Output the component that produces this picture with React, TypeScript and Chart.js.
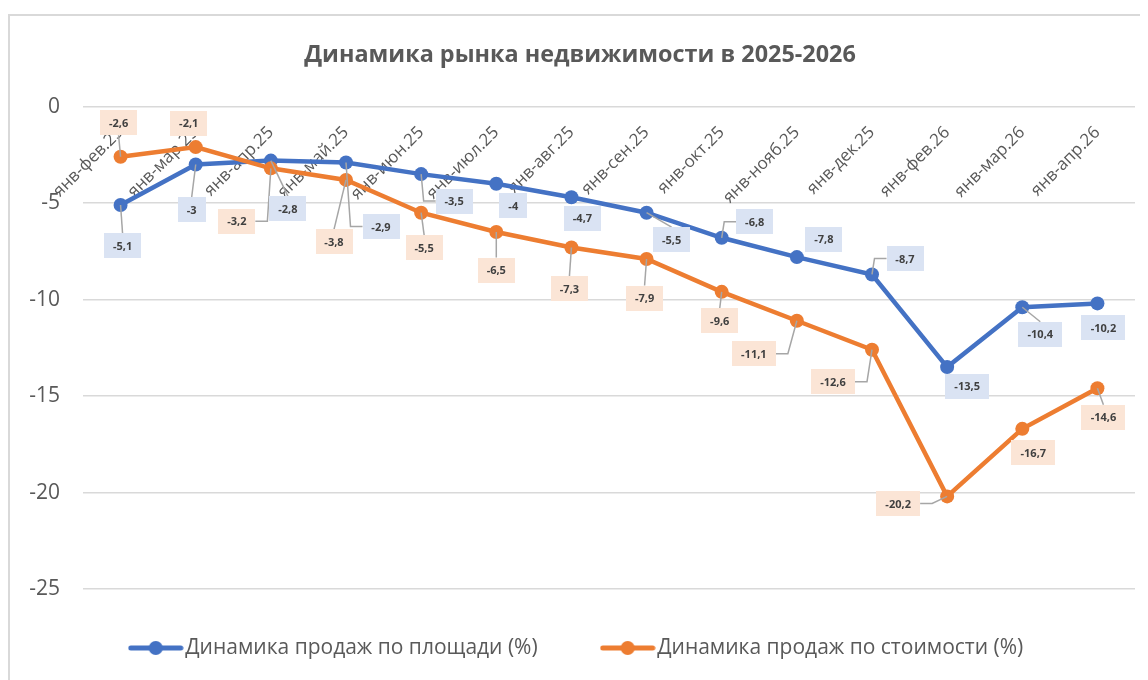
import React, { useEffect, useRef } from "react";
import { Chart, registerables } from "chart.js";

Chart.register(...registerables);

const chartTitle = "Динамика рынка недвижимости в 2025-2026";
const categories = [
  "янв-фев.25", "янв-мар.25", "янв-апр.25", "янв-май.25", "янв-июн.25", "янв-июл.25", "янв-авг.25",
  "янв-сен.25", "янв-окт.25", "янв-нояб.25", "янв-дек.25", "янв-фев.26", "янв-мар.26", "янв-апр.26",
];
const areaName = "Динамика продаж по площади (%)";
const costName = "Динамика продаж по стоимости (%)";
const areaValues = [-5.1, -3, -2.8, -2.9, -3.5, -4, -4.7, -5.5, -6.8, -7.8, -8.7, -13.5, -10.4, -10.2];
const costValues = [-2.6, -2.1, -3.2, -3.8, -5.5, -6.5, -7.3, -7.9, -9.6, -11.1, -12.6, -20.2, -16.7, -14.6];
const yTickValues = [0, -5, -10, -15, -20, -25];

// label box offsets (px) from each point, as placed in the original chart
const areaLabelOffsets: [number, number][] = [
  [2, 41], [-4, 45], [17, 48], [35, 64], [33, 27], [17, 22], [11, 21],
  [25, 27], [33, -16], [27, -18], [33, -16], [20, 19], [18, 27], [6, 24],
];
const costLabelOffsets: [number, number][] = [
  [-2, -34], [-7, -24], [-34, 53], [-12, 62], [3, 35], [0, 38], [-2, 41],
  [-2, 39], [-2, 29], [-43, 33], [-39, 32], [-49, 7], [11, 24], [6, 29],
];

const BLUE = "#4472c4";
const ORANGE = "#ed7d31";
const BLUE_BOX = "#dae3f3";
const ORANGE_BOX = "#fbe5d6";
const TEXT = "#595959";
const FONT = "'Open Sans', 'Noto Sans', sans-serif";

function makeLegendIcon(color: string) {
  const c = document.createElement("canvas");
  c.width = 56;
  c.height = 16;
  const g = c.getContext("2d")!;
  g.strokeStyle = color;
  g.lineWidth = 5;
  g.lineCap = "round";
  g.beginPath();
  g.moveTo(3, 8);
  g.lineTo(53, 8);
  g.stroke();
  g.fillStyle = color;
  g.beginPath();
  g.arc(28, 8, 7, 0, Math.PI * 2);
  g.fill();
  return c;
}

const labelPlugin = {
  id: "excelDataLabels",
  afterDatasetsDraw(chart: any) {
    const ctx = chart.ctx;
    const offsetsList = [areaLabelOffsets, costLabelOffsets];
    const fills = [BLUE_BOX, ORANGE_BOX];
    ctx.save();
    ctx.font = `bold 11px ${FONT}`;
    const items: any[] = [];
    chart.data.datasets.forEach((ds: any, di: number) => {
      const meta = chart.getDatasetMeta(di);
      meta.data.forEach((el: any, i: number) => {
        const v = ds.data[i];
        const text = String(v).replace(".", ",");
        const tw = ctx.measureText(text).width;
        const w = Math.round(tw + 18);
        const h = 25;
        const off = offsetsList[di][i];
        const cx = el.x + off[0];
        const cy = el.y + off[1];
        items.push({ px: el.x, py: el.y, cx, cy, w, h, text, fill: fills[di] });
      });
    });
    // leader lines
    ctx.strokeStyle = "#a6a6a6";
    ctx.lineWidth = 1.5;
    items.forEach((it) => {
      const bx0 = it.cx - it.w / 2, bx1 = it.cx + it.w / 2;
      const by0 = it.cy - it.h / 2, by1 = it.cy + it.h / 2;
      const nx = Math.min(Math.max(it.px, bx0), bx1);
      const ny = Math.min(Math.max(it.py, by0), by1);
      const dist = Math.hypot(it.px - nx, it.py - ny);
      if (dist <= 14) return;
      ctx.beginPath();
      if (it.px < bx0 - 10) {
        ctx.moveTo(bx0, it.cy);
        ctx.lineTo(bx0 - 12, it.cy);
        ctx.lineTo(it.px, it.py);
      } else if (it.px > bx1 + 10) {
        ctx.moveTo(bx1, it.cy);
        ctx.lineTo(bx1 + 12, it.cy);
        ctx.lineTo(it.px, it.py);
      } else {
        const ey = it.py < by0 ? by0 : by1;
        ctx.moveTo(it.cx, ey);
        ctx.lineTo(it.px, it.py);
      }
      ctx.stroke();
    });
    // boxes and text
    ctx.textAlign = "center";
    ctx.textBaseline = "middle";
    items.forEach((it) => {
      ctx.fillStyle = it.fill;
      ctx.fillRect(Math.round(it.cx - it.w / 2), Math.round(it.cy - it.h / 2), it.w, it.h);
      ctx.fillStyle = "#404040";
      ctx.fillText(it.text, it.cx, it.cy + 1);
    });
    ctx.restore();
  },
};

const legendShiftPlugin = {
  id: "legendShift",
  afterLayout(chart: any) {
    const lg = chart.legend;
    if (lg) {
      lg.top -= 22.5;
      lg.bottom -= 22.5;
    }
  },
};

export default function App() {
  const ref = useRef<HTMLCanvasElement>(null);
  useEffect(() => {
    const icons = [makeLegendIcon(BLUE), makeLegendIcon(ORANGE)];
    const chart = new Chart(ref.current!, {
      type: "line",
      data: {
        labels: categories,
        datasets: [
          {
            label: areaName,
            data: areaValues,
            borderColor: BLUE,
            backgroundColor: BLUE,
            borderWidth: 4.5,
            pointRadius: 7,
            pointBackgroundColor: BLUE,
            pointBorderColor: BLUE,
            pointBorderWidth: 0,
            tension: 0,
            order: 1,
          },
          {
            label: costName,
            data: costValues,
            borderColor: ORANGE,
            backgroundColor: ORANGE,
            borderWidth: 4.5,
            pointRadius: 7,
            pointBackgroundColor: ORANGE,
            pointBorderColor: ORANGE,
            pointBorderWidth: 0,
            tension: 0,
            order: 0,
          },
        ],
      },
      options: {
        animation: false,
        responsive: false,
        events: [],
        layout: { padding: { left: 15, right: 13, top: 0, bottom: 0 } },
        scales: {
          x: {
            type: "category",
            position: { y: 0 } as any,
            offset: true,
            grid: { display: false, drawTicks: false },
            border: { display: false },
            ticks: {
              autoSkip: false,
              maxRotation: 45,
              minRotation: 45,
              padding: 16,
              color: TEXT,
              font: { family: FONT, size: 17 },
            },
          },
          y: {
            min: -25,
            max: 0,
            afterBuildTicks: (scale: any) => {
              scale.ticks = yTickValues.map((v) => ({ value: v }));
            },
            afterFit: (scale: any) => {
              scale.width = 58;
            },
            grid: { color: "#d9d9d9", lineWidth: 1.5, drawTicks: false },
            border: { display: false },
            ticks: {
              padding: 23,
              color: TEXT,
              font: { family: FONT, size: 21 },
            },
          },
        },
        plugins: {
          title: {
            display: true,
            text: chartTitle,
            color: TEXT,
            font: { family: FONT, size: 23.4, weight: "bold", lineHeight: 1.2 },
            padding: { top: 25, bottom: 37.5 },
          },
          legend: {
            display: true,
            position: "bottom",
            labels: {
              usePointStyle: true,
              pointStyleWidth: 38,
              padding: 71,
              color: TEXT,
              font: { family: FONT, size: 21 },
              generateLabels: (c: any) =>
                c.data.datasets.map((ds: any, i: number) => ({
                  text: ds.label,
                  pointStyle: icons[i],
                  fillStyle: ds.borderColor,
                  strokeStyle: ds.borderColor,
                  lineWidth: 0,
                  hidden: false,
                  datasetIndex: i,
                  fontColor: TEXT,
                })),
            },
          },
          tooltip: { enabled: false },
        },
      },
      plugins: [labelPlugin, legendShiftPlugin],
    });
    return () => chart.destroy();
  }, []);

  return (
    <div style={{ width: 1140, height: 672, overflow: "hidden" }}>
      <div
        style={{
          marginTop: 6,
          borderTop: "2px solid #d9d9d9",
          borderLeft: "2px solid #d9d9d9",
          width: 1200,
          height: 700,
        }}
      >
        <canvas ref={ref} width={1138} height={675} style={{ display: "block", width: 1138, height: 675 }} />
      </div>
    </div>
  );
}
